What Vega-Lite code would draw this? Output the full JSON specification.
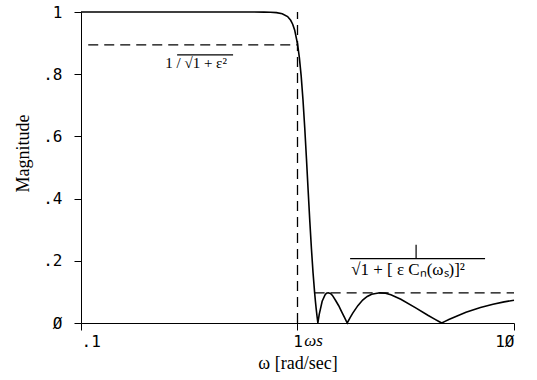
{
  "$schema": "https://vega.github.io/schema/vega-lite/v6.json",
  "width": 433,
  "height": 311,
  "autosize": {"type": "none"},
  "padding": {"left": 81, "top": 12, "right": 23, "bottom": 57},
  "background": "white",
  "config": {
    "view": {"stroke": null},
    "axis": {
      "domainColor": "black",
      "tickColor": "black",
      "labelColor": "black",
      "titleColor": "black",
      "grid": false,
      "labelFont": "DejaVu Sans Mono",
      "labelFontSize": 16,
      "titleFont": "Liberation Serif",
      "titleFontSize": 18,
      "titleFontWeight": "normal"
    }
  },
  "datasets": {
    "curve": [
      {"w": 0.1, "mag": 1.0}, {"w": 0.2, "mag": 1.0}, {"w": 0.3, "mag": 1.0},
      {"w": 0.4, "mag": 1.0}, {"w": 0.5, "mag": 1.0}, {"w": 0.6, "mag": 1.0},
      {"w": 0.7, "mag": 0.9997}, {"w": 0.75, "mag": 0.9993}, {"w": 0.8, "mag": 0.998},
      {"w": 0.85, "mag": 0.9946}, {"w": 0.9, "mag": 0.9853}, {"w": 0.93, "mag": 0.9734},
      {"w": 0.95, "mag": 0.9606}, {"w": 0.97, "mag": 0.9423}, {"w": 1.0, "mag": 0.898},
      {"w": 1.02, "mag": 0.8535}, {"w": 1.04, "mag": 0.794}, {"w": 1.06, "mag": 0.718},
      {"w": 1.08, "mag": 0.628}, {"w": 1.1, "mag": 0.528}, {"w": 1.12, "mag": 0.4252},
      {"w": 1.14, "mag": 0.3267}, {"w": 1.16, "mag": 0.2377}, {"w": 1.18, "mag": 0.161},
      {"w": 1.2, "mag": 0.097}, {"w": 1.21, "mag": 0.0697}, {"w": 1.22, "mag": 0.0453},
      {"w": 1.23, "mag": 0.0234}, {"w": 1.242, "mag": 0.0}, {"w": 1.26, "mag": 0.0277},
      {"w": 1.3, "mag": 0.0698}, {"w": 1.34, "mag": 0.0905}, {"w": 1.36, "mag": 0.0955},
      {"w": 1.386, "mag": 0.097}, {"w": 1.42, "mag": 0.0947}, {"w": 1.45, "mag": 0.0886},
      {"w": 1.5, "mag": 0.0723}, {"w": 1.55, "mag": 0.0555}, {"w": 1.6, "mag": 0.0358},
      {"w": 1.65, "mag": 0.017}, {"w": 1.697, "mag": 0.0}, {"w": 1.75, "mag": 0.0174},
      {"w": 1.8, "mag": 0.0319}, {"w": 1.9, "mag": 0.0558}, {"w": 2.0, "mag": 0.0738},
      {"w": 2.1, "mag": 0.0853}, {"w": 2.2, "mag": 0.0925}, {"w": 2.4, "mag": 0.097},
      {"w": 2.55, "mag": 0.0956}, {"w": 2.7, "mag": 0.0906}, {"w": 3.0, "mag": 0.0763},
      {"w": 3.5, "mag": 0.0493}, {"w": 4.0, "mag": 0.0248}, {"w": 4.3, "mag": 0.0123},
      {"w": 4.5, "mag": 0.0048}, {"w": 4.636, "mag": 0.0}, {"w": 4.8, "mag": 0.0053},
      {"w": 5.0, "mag": 0.0113}, {"w": 6.0, "mag": 0.0346}, {"w": 7.0, "mag": 0.0499},
      {"w": 8.0, "mag": 0.0603}, {"w": 9.0, "mag": 0.0679}, {"w": 10.0, "mag": 0.0733}
    ],
    "limits": [
      {"w1": 0.108, "w2": 1.0, "m1": 0.894, "m2": 0.894},
      {"w1": 1.0, "w2": 1.0, "m1": 0.0, "m2": 1.0},
      {"w1": 1.2, "w2": 10.0, "m1": 0.097, "m2": 0.097}
    ],
    "radicals": [
      {"w1": 1.75, "w2": 7.35, "m1": 0.207, "m2": 0.207},
      {"w1": 3.53, "w2": 3.53, "m1": 0.207, "m2": 0.252},
      {"w1": 0.278, "w2": 0.504, "m1": 0.862, "m2": 0.862}
    ],
    "formulas": [
      {"w": 0.34, "m": 0.835, "label": "1 / √1 + ε²", "size": "small"},
      {"w": 3.24, "m": 0.172, "label": "√1  +  [ ε Cₙ(ωₛ)]²", "size": "large"}
    ],
    "edge": [
      {"w": 1.075, "m": -0.058, "label": "ωs"}
    ]
  },
  "layer": [
    {
      "data": {"name": "curve"},
      "mark": {"type": "line", "color": "black", "strokeWidth": 1.6, "clip": false},
      "encoding": {
        "x": {
          "field": "w", "type": "quantitative",
          "scale": {"type": "log", "domain": [0.1, 10], "nice": false},
          "axis": {
            "values": [0.1, 1, 10],
            "labelExpr": "datum.value < 0.5 ? '.1' : datum.value < 5 ? '1' : '1Ø'",
            "tickSize": 7,
            "labelPadding": 3,
            "title": "ω [rad/sec]",
            "titleY": 40,
            "titleBaseline": "middle"
          }
        },
        "y": {
          "field": "mag", "type": "quantitative",
          "scale": {"domain": [0, 1], "nice": false},
          "axis": {
            "values": [0, 0.2, 0.4, 0.6, 0.8, 1],
            "labelExpr": "datum.value == 0 ? 'Ø' : datum.value == 1 ? '1' : '.' + round(datum.value * 10)",
            "tickSize": 7,
            "labelPadding": 12,
            "title": "Magnitude",
            "titleX": -58,
            "titleY": 141,
            "titleBaseline": "middle"
          }
        }
      }
    },
    {
      "data": {"name": "limits"},
      "mark": {"type": "rule", "color": "black", "strokeWidth": 1.3, "strokeDash": [10, 6]},
      "encoding": {
        "x": {"field": "w1", "type": "quantitative"},
        "x2": {"field": "w2"},
        "y": {"field": "m1", "type": "quantitative"},
        "y2": {"field": "m2"}
      }
    },
    {
      "data": {"name": "radicals"},
      "mark": {"type": "rule", "color": "black", "strokeWidth": 1.2},
      "encoding": {
        "x": {"field": "w1", "type": "quantitative"},
        "x2": {"field": "w2"},
        "y": {"field": "m1", "type": "quantitative"},
        "y2": {"field": "m2"}
      }
    },
    {
      "data": {"name": "formulas"},
      "transform": [{"filter": "datum.size == 'small'"}],
      "mark": {"type": "text", "font": "Liberation Serif", "fontSize": 15, "color": "black", "baseline": "middle"},
      "encoding": {
        "x": {"field": "w", "type": "quantitative"},
        "y": {"field": "m", "type": "quantitative"},
        "text": {"field": "label"}
      }
    },
    {
      "data": {"name": "formulas"},
      "transform": [{"filter": "datum.size == 'large'"}],
      "mark": {"type": "text", "font": "Liberation Serif", "fontSize": 17, "color": "black", "baseline": "middle"},
      "encoding": {
        "x": {"field": "w", "type": "quantitative"},
        "y": {"field": "m", "type": "quantitative"},
        "text": {"field": "label"}
      }
    },
    {
      "data": {"name": "edge"},
      "mark": {"type": "text", "font": "Liberation Serif", "fontStyle": "italic", "fontSize": 17, "color": "black", "align": "left", "baseline": "middle", "clip": false},
      "encoding": {
        "x": {"field": "w", "type": "quantitative"},
        "y": {"field": "m", "type": "quantitative"},
        "text": {"field": "label"}
      }
    }
  ]
}
